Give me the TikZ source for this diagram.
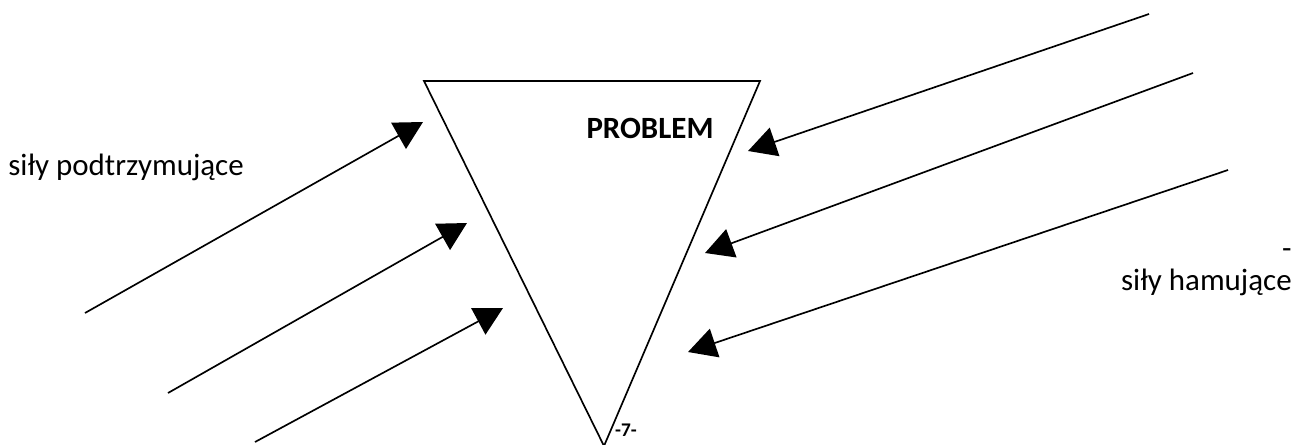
\documentclass[tikz,border=0pt]{standalone}
\usepackage{fontspec}
\setmainfont{Carlito}
\usetikzlibrary{arrows.meta}

\tikzset{
  sila/.style={line width=0.95pt, -{Triangle[length=16pt,width=17pt]}},
  opis/.style={inner sep=0pt, font=\fontsize{17.6pt}{21pt}\selectfont},
}

\begin{document}
\begin{tikzpicture}[x=0.02cm, y=-0.02cm]
  \useasboundingbox (0,0) rectangle (1297,444);

  % Trójkąt problemu
  \coordinate (lewy) at (424,81);
  \coordinate (prawy) at (760,81);
  \coordinate (dol) at (604,446);
  \draw[line width=0.95pt] (lewy) -- (prawy) -- (dol) -- cycle;
  \node[opis, font=\fontsize{17.6pt}{21pt}\selectfont\bfseries] (problem) at (650,128) {PROBLEM};

  % Siły podtrzymujące (lewa strona)
  \coordinate (p1) at (85,313);   \coordinate (p1k) at (423,122);
  \coordinate (p2) at (168,393);  \coordinate (p2k) at (467,223);
  \coordinate (p3) at (255,442);  \coordinate (p3k) at (503,308);
  \draw[sila] (p1) -- (p1k);
  \draw[sila] (p2) -- (p2k);
  \draw[sila] (p3) -- (p3k);

  % Siły hamujące (prawa strona)
  \coordinate (h1) at (1149,14);  \coordinate (h1k) at (748,151);
  \coordinate (h2) at (1193,73);  \coordinate (h2k) at (705,253);
  \coordinate (h3) at (1228,170); \coordinate (h3k) at (688,352);
  \draw[sila] (h1) -- (h1k);
  \draw[sila] (h2) -- (h2k);
  \draw[sila] (h3) -- (h3k);

  % Opisy
  \node[opis, anchor=base west] (podtrz) at (8,175) {siły podtrzymujące};
  \node[opis, anchor=base east] (hamuj) at (1292,290) {siły hamujące};
  \node[opis, anchor=base east] (kreska) at (1292,258) {-};
  \node[inner sep=0pt, font=\fontsize{11pt}{13pt}\selectfont\bfseries] (strona) at (626,430) {-7-};

\end{tikzpicture}
\end{document}
